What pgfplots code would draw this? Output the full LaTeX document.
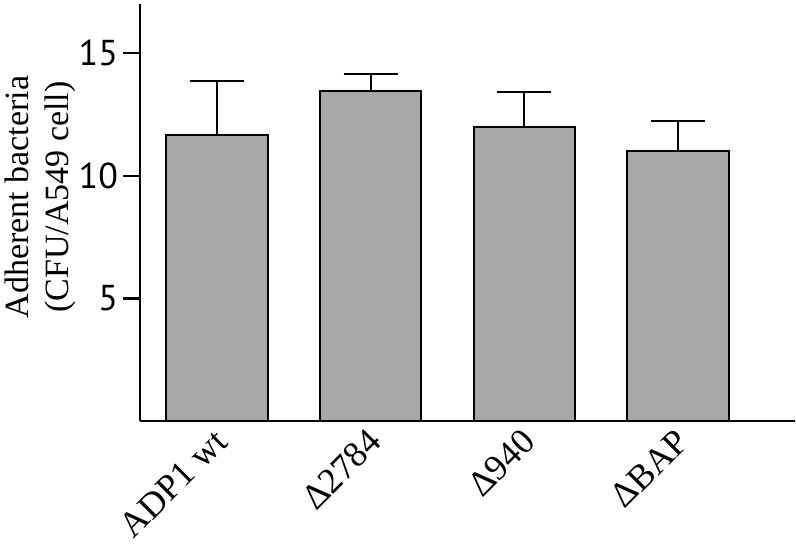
\documentclass[border=0pt]{standalone}
\usepackage{fontspec}
\setmainfont{Liberation Serif}
\newfontfamily\numfont{PT Sans}
\usepackage{pgfplots}
\pgfplotsset{compat=1.18}
\definecolor{barfill}{RGB}{168,168,168}

\begin{document}
\begin{tikzpicture}
\begin{axis}[
  scale only axis,
  width=327.5pt, height=208.5pt,
  ymin=0, ymax=17,
  xmin=0.5, xmax=4.76,
  axis x line*=bottom, axis y line*=left,
  axis line style={line width=1.2pt},
  ytick={5,10,15},
  yticklabel style={font=\numfont\fontsize{18}{20}\selectfont, xshift=1pt},
  /pgf/number format/assume math mode=true,
  tick align=outside,
  major tick length=8.5pt,
  tick style={line width=1.2pt, black},
  xtick={1,2,3,4},
  xticklabels={ADP1 wt, Δ2784, Δ940, ΔBAP},
  xtick style={draw=none},
  xticklabel style={rotate=45, anchor=north east, inner sep=1pt,
    font=\fontsize{18}{20}\selectfont, yshift=6.5pt, xshift=3.5pt},
  ylabel={Adherent bacteria\\(CFU/A549 cell)},
  ylabel style={align=center, font=\fontsize{17}{20}\selectfont,
    at={(axis description cs:-0.087,0.537)}, anchor=south},
]
\addplot[ybar, bar width=0.66, fill=barfill, draw=black, line width=1pt,
  error bars/.cd, y dir=plus, y explicit,
  error bar style={line width=1pt, black},
  error mark options={rotate=90, mark size=13.5pt, line width=1pt}]
  coordinates {
  (1,11.64) +- (0,2.24)
  (2,13.47) +- (0,0.68)
  (3,11.97) +- (0,1.46)
  (4,11.02) +- (0,1.20)
};
\coordinate (bl) at (rel axis cs:0,0);
\coordinate (tr) at (rel axis cs:1,1);
\end{axis}
\pgfresetboundingbox
\path ([shift={(-70pt,-63.5pt)}]bl) rectangle ([shift={(0.5pt,2pt)}]tr);
\end{tikzpicture}
\end{document}
